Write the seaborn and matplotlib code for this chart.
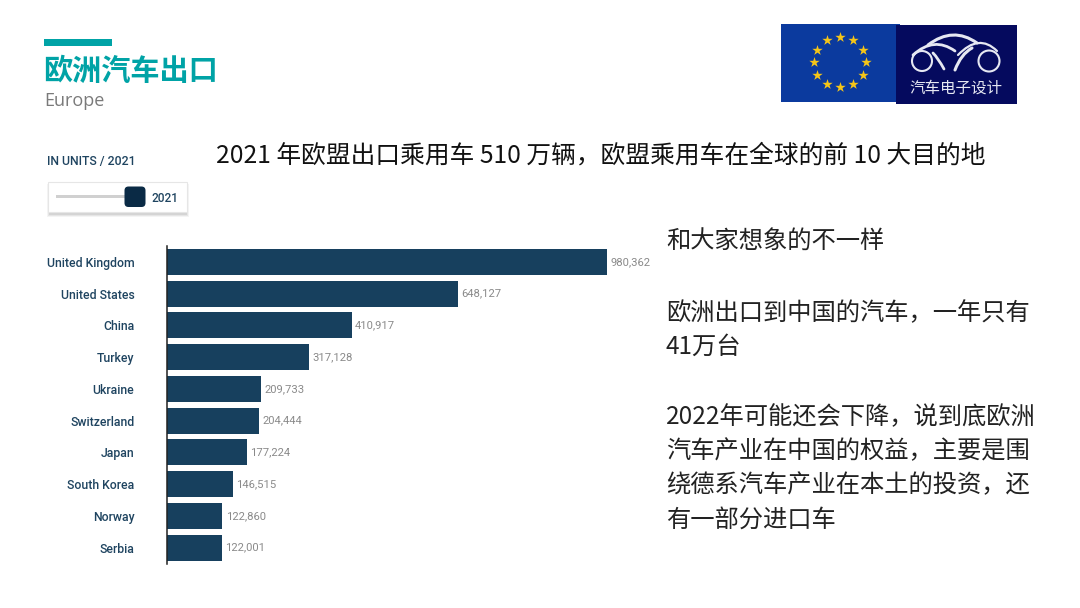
import numpy as np
import pandas as pd
import matplotlib
matplotlib.use("Agg")
import matplotlib.pyplot as plt
from matplotlib.patches import Rectangle, FancyBboxPatch, Circle, PathPatch
from matplotlib.path import Path
import seaborn as sns

countries = ["United Kingdom", "United States", "China", "Turkey", "Ukraine",
             "Switzerland", "Japan", "South Korea", "Norway", "Serbia"]
units = [980362, 648127, 410917, 317128, 209733, 204444, 177224, 146515, 122860, 122001]

title_cn = "欧洲汽车出口"
title_en = "Europe"
headline = "2021 年欧盟出口乘用车 510 万辆，欧盟乘用车在全球的前 10 大目的地"
side_paras = [["和大家想象的不一样"],
              ["欧洲出口到中国的汽车，一年只有", "41万台"],
              ["2022年可能还会下降，说到底欧洲", "汽车产业在中国的权益，主要是围",
               "绕德系汽车产业在本土的投资，还", "有一部分进口车"]]

sns.set_theme(style="white")
CJK = ["Noto Sans CJK SC", "DejaVu Sans"]
plt.rcParams["font.family"] = CJK

W, H = 1080, 608
fig = plt.figure(figsize=(W / 100, H / 100), dpi=100, facecolor="white")

ov = fig.add_axes([0, 0, 1, 1], zorder=0)
ov.set_xlim(0, W); ov.set_ylim(H, 0); ov.axis("off")

# Bar chart
L, R, T, B = 167, 616, 246, 563.5
ax = fig.add_axes([L / W, 1 - B / H, (R - L) / W, (B - T) / H], zorder=2)
ax.patch.set_alpha(0)
df = pd.DataFrame({"country": countries, "units": units})
sns.barplot(data=df, x="units", y="country", color="#17405e", saturation=1,
            width=0.82, linewidth=0, ax=ax)
ax.set_xlim(0, 1000000)
ax.set_ylim(9.5, -0.5)
ax.set_xlabel(""); ax.set_ylabel("")
ax.xaxis.set_visible(False)
ax.tick_params(axis="y", length=0, pad=23.5, labelsize=8.8, labelcolor="#1f4460")
for t in ax.get_yticklabels():
    t.set_fontfamily("Roboto")
    t.set_fontweight("medium")
for s in ["top", "right", "bottom"]:
    ax.spines[s].set_visible(False)
ax.spines["left"].set_color("#222222")
ax.spines["left"].set_linewidth(1.1)
for c in ax.containers:
    ax.bar_label(c, labels=[f"{v:,}" for v in units], padding=2.5, fontsize=8.1,
                 color="#8a8a8a", family="Roboto")

# Title block
teal = "#00a3a6"
ov.add_patch(Rectangle((44, 39), 68, 6.5, color=teal, lw=0))
ov.text(43.5, 70.5, title_cn, fontsize=21, fontweight="bold", color=teal, va="center", ha="left")
ov.text(44, 101.5, title_en, fontsize=13, color="#7a7a7a", va="center", ha="left", family="Open Sans")

# Headline
ov.text(216, 155.5, headline, fontsize=17.8, color="#111111", va="center", ha="left")

# Slider control
ov.text(47, 161, "IN UNITS / 2021", fontsize=8.8, color="#1f4460", va="center", ha="left",
        family="Roboto", fontweight="medium")
for grow, alpha in [(2.5, 0.10), (1.5, 0.16), (0.5, 0.22)]:
    ov.add_patch(Rectangle((48 - grow + 1, 182 + 2), 138.5 + 2 * grow - 1, 30 + grow,
                           color="#999999", lw=0, alpha=alpha))
ov.add_patch(Rectangle((48, 182), 138.5, 30, fc="white", ec="#e6e6e6", lw=0.8))
ov.add_patch(Rectangle((56, 194.5), 70, 3.5, color="#d0d0d0", lw=0))
ov.add_patch(FancyBboxPatch((124.5, 186.5), 21, 20.5, boxstyle="round,pad=0,rounding_size=4",
                            fc="#0a2a45", ec="none"))
ov.text(152, 198, "2021", fontsize=8.6, color="#1f4460", va="center", ha="left",
        family="Roboto", fontweight="medium")

# EU flag
ov.add_patch(Rectangle((781, 24), 119, 77.5, color="#0b3a9e", lw=0))
n_stars = 12
ang = np.linspace(0, 2 * np.pi, n_stars, endpoint=False)
ov.scatter(840 + 26 * np.sin(ang), 62 - 25 * np.cos(ang), marker="*", s=62,
           color="#f5c518", linewidths=0, zorder=3)

# Logo
ov.add_patch(Rectangle((896, 25), 121, 79, color="#050a5e", lw=0, zorder=2))
white = "#e6e8f2"
def curve(p0, c, p1, lw):
    ov.add_patch(PathPatch(Path([p0, c, p1], [Path.MOVETO, Path.CURVE3, Path.CURVE3]),
                           fc="none", ec=white, lw=lw, capstyle="round", zorder=3))
ov.add_patch(Circle((922, 61), 10, fc="none", ec=white, lw=1.5, zorder=3))
ov.add_patch(Circle((989, 61), 10.5, fc="none", ec=white, lw=1.5, zorder=3))
curve((928, 45), (953, 26), (977, 43), 2.2)
curve((913, 55), (934, 36), (955, 51), 2.0)
curve((933, 53), (938, 58), (944, 69), 2.0)
curve((955, 70), (961, 54), (972, 48), 2.2)
curve((958, 55), (979, 33), (997, 51), 1.6)
ov.text(955.5, 88, "汽车电子设计", fontsize=11.2, color=white, va="center", ha="center", zorder=3)

# Side text
ypos = {0: [242], 1: [313.5, 346.5], 2: [417.5, 451.5, 485.5, 519.5]}
for i, para in enumerate(side_paras):
    for line, y in zip(para, ypos[i]):
        ov.text(666, y, line, fontsize=17.5, color="#222222", va="center", ha="left")

fig.savefig("out.png", dpi=100, facecolor="white")
